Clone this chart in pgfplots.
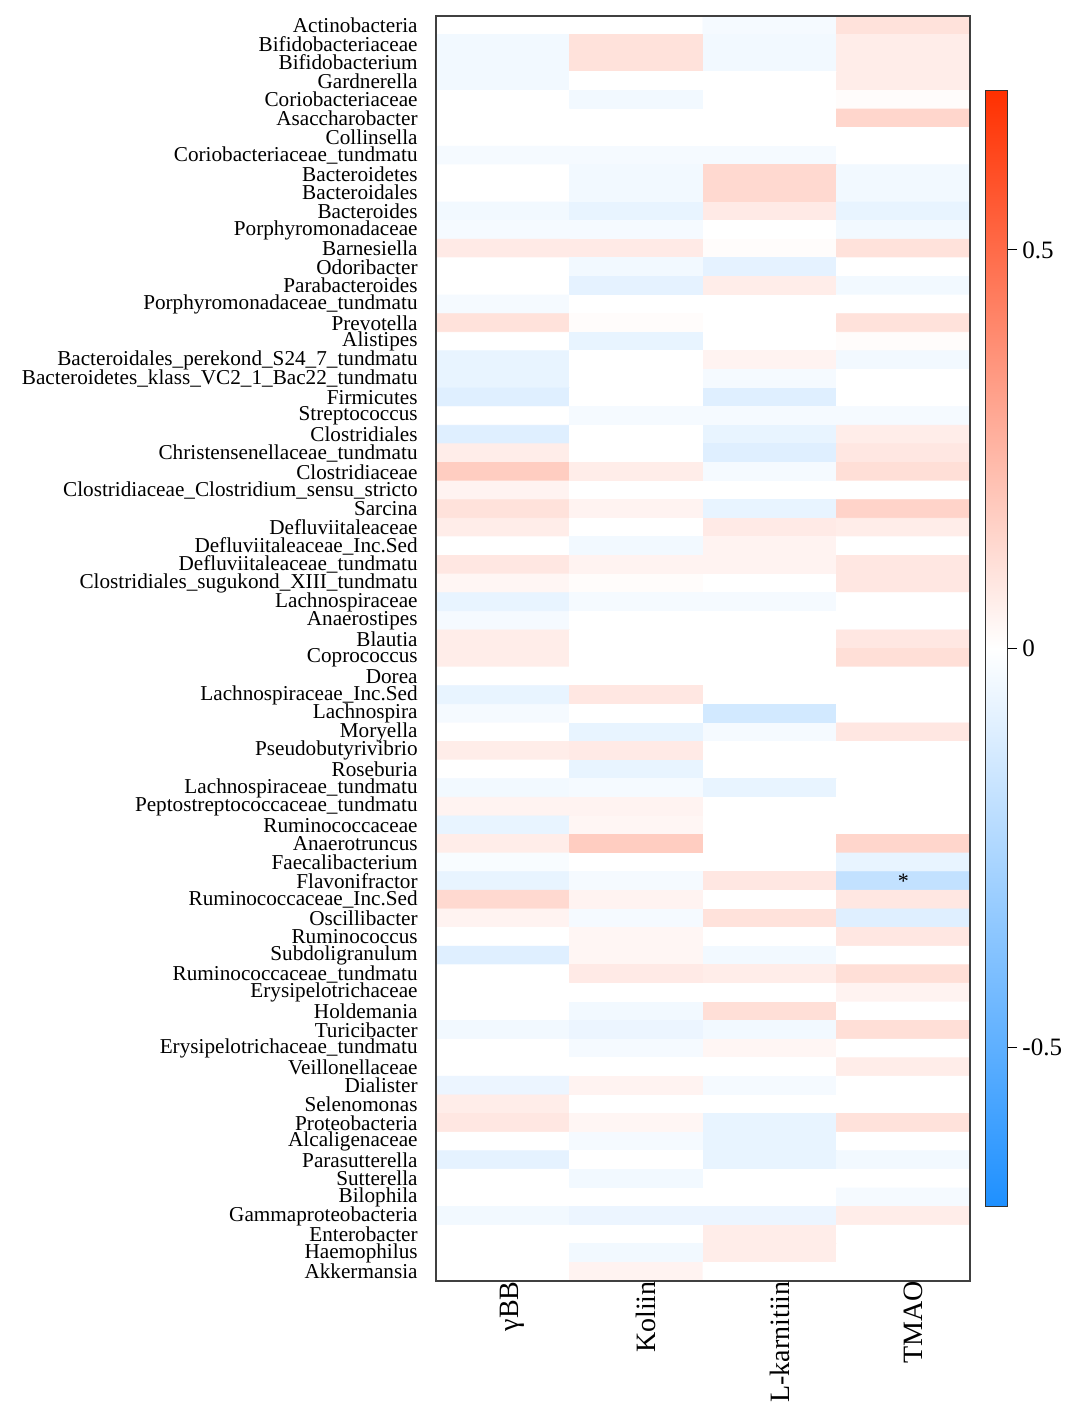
\documentclass[border=0pt]{standalone}
\usepackage{pgfplots}
\pgfplotsset{compat=1.18}
\usepackage{pgfplotstable}
\usepackage{fontspec}
\setmainfont{Liberation Serif}
\usetikzlibrary{calc}

% long format: column index, row index (1 = top), correlation
\pgfplotstableread[row sep=\\]{
x y c\\
0 1 0\\ 1 1 0\\ 2 1 -0.03\\ 3 1 0.10\\
0 2 -0.04\\ 1 2 0.10\\ 2 2 -0.04\\ 3 2 0.06\\
0 3 -0.04\\ 1 3 0.10\\ 2 3 -0.04\\ 3 3 0.06\\
0 4 -0.04\\ 1 4 0\\ 2 4 0\\ 3 4 0.06\\
0 5 0\\ 1 5 -0.04\\ 2 5 0\\ 3 5 0.01\\
0 6 0\\ 1 6 0\\ 2 6 0\\ 3 6 0.14\\
0 7 0\\ 1 7 0\\ 2 7 0\\ 3 7 0\\
0 8 -0.03\\ 1 8 -0.03\\ 2 8 -0.03\\ 3 8 0\\
0 9 0\\ 1 9 -0.04\\ 2 9 0.13\\ 3 9 -0.04\\
0 10 0\\ 1 10 -0.04\\ 2 10 0.13\\ 3 10 -0.04\\
0 11 -0.04\\ 1 11 -0.07\\ 2 11 0.07\\ 3 11 -0.07\\
0 12 -0.03\\ 1 12 -0.03\\ 2 12 0\\ 3 12 -0.04\\
0 13 0.07\\ 1 13 0.07\\ 2 13 0.01\\ 3 13 0.10\\
0 14 0\\ 1 14 -0.04\\ 2 14 -0.08\\ 3 14 0\\
0 15 0\\ 1 15 -0.08\\ 2 15 0.06\\ 3 15 -0.04\\
0 16 -0.03\\ 1 16 0\\ 2 16 0\\ 3 16 0\\
0 17 0.10\\ 1 17 0.01\\ 2 17 0\\ 3 17 0.10\\
0 18 0\\ 1 18 -0.07\\ 2 18 0\\ 3 18 0.01\\
0 19 -0.07\\ 1 19 0\\ 2 19 0.04\\ 3 19 -0.04\\
0 20 -0.07\\ 1 20 0\\ 2 20 -0.03\\ 3 20 0\\
0 21 -0.10\\ 1 21 0\\ 2 21 -0.10\\ 3 21 0\\
0 22 0\\ 1 22 -0.03\\ 2 22 -0.03\\ 3 22 -0.03\\
0 23 -0.10\\ 1 23 0\\ 2 23 -0.07\\ 3 23 0.06\\
0 24 0.06\\ 1 24 0\\ 2 24 -0.10\\ 3 24 0.08\\
0 25 0.17\\ 1 25 0.06\\ 2 25 -0.03\\ 3 25 0.11\\
0 26 0.04\\ 1 26 0\\ 2 26 0\\ 3 26 0\\
0 27 0.10\\ 1 27 0.04\\ 2 27 -0.07\\ 3 27 0.15\\
0 28 0.06\\ 1 28 0\\ 2 28 0.07\\ 3 28 0.06\\
0 29 0\\ 1 29 -0.04\\ 2 29 0.04\\ 3 29 0\\
0 30 0.08\\ 1 30 0.04\\ 2 30 0.04\\ 3 30 0.08\\
0 31 0.03\\ 1 31 0.01\\ 2 31 0\\ 3 31 0.08\\
0 32 -0.07\\ 1 32 -0.03\\ 2 32 -0.03\\ 3 32 0\\
0 33 -0.03\\ 1 33 0\\ 2 33 0\\ 3 33 0\\
0 34 0.06\\ 1 34 0\\ 2 34 0\\ 3 34 0.08\\
0 35 0.06\\ 1 35 0\\ 2 35 0\\ 3 35 0.11\\
0 36 0\\ 1 36 0\\ 2 36 0\\ 3 36 0\\
0 37 -0.07\\ 1 37 0.08\\ 2 37 0\\ 3 37 0\\
0 38 -0.03\\ 1 38 0\\ 2 38 -0.14\\ 3 38 0\\
0 39 0\\ 1 39 -0.07\\ 2 39 -0.03\\ 3 39 0.08\\
0 40 0.06\\ 1 40 0.07\\ 2 40 0\\ 3 40 0\\
0 41 0\\ 1 41 -0.07\\ 2 41 0\\ 3 41 0\\
0 42 -0.04\\ 1 42 -0.03\\ 2 42 -0.07\\ 3 42 0\\
0 43 0.04\\ 1 43 0.04\\ 2 43 0\\ 3 43 0\\
0 44 -0.07\\ 1 44 0.03\\ 2 44 0\\ 3 44 0\\
0 45 0.06\\ 1 45 0.17\\ 2 45 0\\ 3 45 0.14\\
0 46 -0.02\\ 1 46 0\\ 2 46 0\\ 3 46 -0.07\\
0 47 -0.07\\ 1 47 -0.03\\ 2 47 0.08\\ 3 47 -0.19\\
0 48 0.13\\ 1 48 0.04\\ 2 48 0\\ 3 48 0.08\\
0 49 0.04\\ 1 49 -0.03\\ 2 49 0.10\\ 3 49 -0.10\\
0 50 0\\ 1 50 0.03\\ 2 50 0\\ 3 50 0.08\\
0 51 -0.10\\ 1 51 0.03\\ 2 51 -0.04\\ 3 51 0\\
0 52 0\\ 1 52 0.07\\ 2 52 0.06\\ 3 52 0.11\\
0 53 0\\ 1 53 0\\ 2 53 0\\ 3 53 0.04\\
0 54 0\\ 1 54 -0.04\\ 2 54 0.11\\ 3 54 0\\
0 55 -0.04\\ 1 55 -0.06\\ 2 55 -0.04\\ 3 55 0.11\\
0 56 0\\ 1 56 -0.03\\ 2 56 0.03\\ 3 56 0\\
0 57 0\\ 1 57 0\\ 2 57 0\\ 3 57 0.06\\
0 58 -0.06\\ 1 58 0.04\\ 2 58 -0.03\\ 3 58 0\\
0 59 0.06\\ 1 59 0\\ 2 59 0\\ 3 59 0\\
0 60 0.08\\ 1 60 0.03\\ 2 60 -0.07\\ 3 60 0.10\\
0 61 0\\ 1 61 -0.03\\ 2 61 -0.07\\ 3 61 0\\
0 62 -0.08\\ 1 62 0\\ 2 62 -0.07\\ 3 62 -0.04\\
0 63 0\\ 1 63 -0.04\\ 2 63 0\\ 3 63 0\\
0 64 0\\ 1 64 0\\ 2 64 0\\ 3 64 -0.03\\
0 65 -0.04\\ 1 65 -0.06\\ 2 65 -0.06\\ 3 65 0.06\\
0 66 0\\ 1 66 0\\ 2 66 0.06\\ 3 66 0\\
0 67 0\\ 1 67 -0.04\\ 2 67 0.06\\ 3 67 0\\
0 68 0\\ 1 68 0.04\\ 2 68 0\\ 3 68 0\\
}\heat

\begin{document}
\begin{tikzpicture}
\begin{axis}[
  name=ax,
  scale only axis, width=267pt, height=632.5pt,
  xmin=-0.5, xmax=3.5, ymin=0.5, ymax=68.5, y dir=reverse,
  axis on top,
  xtick={0,1,2,3},
  xticklabels={γBB,Koliin,L-karnitiin,TMAO},
  ytick={1,...,68},
  yticklabels={Actinobacteria,Bifidobacteriaceae,Bifidobacterium,Gardnerella,Coriobacteriaceae,Asaccharobacter,Collinsella,Coriobacteriaceae\_tundmatu,Bacteroidetes,Bacteroidales,Bacteroides,Porphyromonadaceae,Barnesiella,Odoribacter,Parabacteroides,Porphyromonadaceae\_tundmatu,Prevotella,Alistipes,Bacteroidales\_perekond\_S24\_7\_tundmatu,Bacteroidetes\_klass\_VC2\_1\_Bac22\_tundmatu,Firmicutes,Streptococcus,Clostridiales,Christensenellaceae\_tundmatu,Clostridiaceae,Clostridiaceae\_Clostridium\_sensu\_stricto,Sarcina,Defluviitaleaceae,Defluviitaleaceae\_Inc.Sed,Defluviitaleaceae\_tundmatu,Clostridiales\_sugukond\_XIII\_tundmatu,Lachnospiraceae,Anaerostipes,Blautia,Coprococcus,Dorea,Lachnospiraceae\_Inc.Sed,Lachnospira,Moryella,Pseudobutyrivibrio,Roseburia,Lachnospiraceae\_tundmatu,Peptostreptococcaceae\_tundmatu,Ruminococcaceae,Anaerotruncus,Faecalibacterium,Flavonifractor,Ruminococcaceae\_Inc.Sed,Oscillibacter,Ruminococcus,Subdoligranulum,Ruminococcaceae\_tundmatu,Erysipelotrichaceae,Holdemania,Turicibacter,Erysipelotrichaceae\_tundmatu,Veillonellaceae,Dialister,Selenomonas,Proteobacteria,Alcaligenaceae,Parasutterella,Sutterella,Bilophila,Gammaproteobacteria,Enterobacter,Haemophilus,Akkermansia},
  major tick length=0pt,
  xticklabel style={rotate=90, anchor=east, inner sep=0pt, yshift=-5pt, font=\fontsize{14}{14}\selectfont},
  yticklabel style={anchor=east, inner sep=0pt, xshift=-9pt, font=\fontsize{10.6}{10.6}\selectfont},
  axis line style={draw=black!75, line width=0.8pt},
  colormap={rb}{rgb255(0cm)=(30,144,255); rgb255(1cm)=(255,255,255); rgb255(2cm)=(255,48,0)},
  point meta min=-0.7, point meta max=0.7,
  colorbar right,
  colorbar style={
    at={(parent axis.east)}, anchor=west, xshift=-1pt,
    scale only axis, width=11pt, height=558pt,
    ytick={-0.5,0,0.5}, yticklabels={-0.5,0,0.5},
    ytick pos=right, tick align=outside, major tick length=5pt,
    yticklabel style={font=\fontsize{12.5}{12.5}\selectfont, inner sep=2.5pt},
    axis line style={draw=black!80, line width=0.5pt},
    tick style={black, line width=0.5pt},
  },
]
\addplot[matrix plot*, mesh/cols=4, point meta=explicit, draw=none] table[x=x, y=y, meta=c] {\heat};
\node[font=\fontsize{11}{11}\selectfont, inner sep=0pt] at (axis cs:3,47) {*};
\end{axis}
\pgfresetboundingbox
\path[use as bounding box] ($(ax.south west)+(-218pt,-65.5pt)$) rectangle ($(ax.north east)+(51pt,8pt)$);
\end{tikzpicture}
\end{document}
